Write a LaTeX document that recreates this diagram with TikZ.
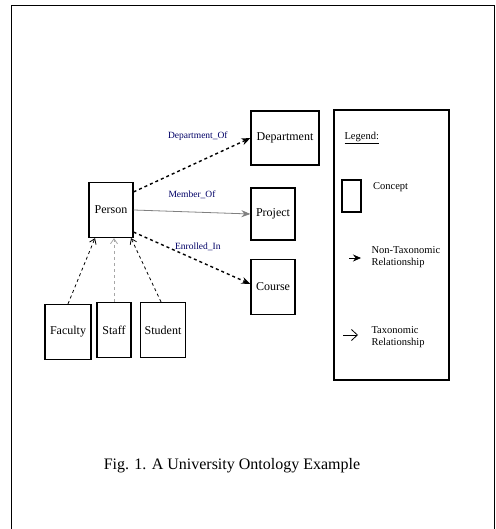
\documentclass[tikz,border=0pt]{standalone}
\usepackage{fontspec}
\setmainfont{Liberation Serif}
\usepackage{tikz}
\usetikzlibrary{positioning,arrows.meta}

\begin{document}
\begin{tikzpicture}[%
  x=1pt,
  y=-1pt,
  >=stealth,
  font=\fontsize{10.5}{12.5}\selectfont,
  concept/.style={
    draw,
    line width=1.2pt,
    inner sep=0pt,
    font=\fontsize{12}{13}\selectfont,
    align=center,},
  nontax/.style={
    -{Stealth[length=9pt,width=7pt]},
    line width=1.4pt,
    dashed,},
  tax/.style={
    -{Straight Barb[length=5pt,width=7pt]},
    thick,
    dashed,},
  lbl/.style={
    font=\fontsize{9.5}{10}\selectfont,
    text=blue!40!black,}
  ]
  \useasboundingbox (0,0) rectangle (495,529);
  %% Frame
  \draw[thick] (11,529) -- (11,5) -- (494,5) -- (494,529);
  %% Nodes
  \node[concept, minimum width=44pt, minimum height=55pt] (Per) at (111,210) {Person};
  \node[concept, minimum width=68pt, minimum height=54pt] (Dep) at (285,138) {Department};
  \node[concept, minimum width=44pt, minimum height=52pt] (Pro) at (273,214) {Project};
  \node[concept, minimum width=44pt, minimum height=55pt] (Cou) at (273,287) {Course};
  \node[concept, minimum width=46pt, minimum height=55pt] (Fac) at (68,332) {Faculty};
  \node[concept, minimum width=34pt, minimum height=55pt] (Sta) at (114,330) {Staff};
  \node[concept, minimum width=45pt, minimum height=55pt] (Stu) at (163,330) {Student};
  %% Edges
  \draw[nontax] (Per.north east) ++(0,10) coordinate (p1) -- (Dep.west)
    node[lbl, pos=0.55, above=18pt] {Department\_Of};
  \draw[-{Stealth[length=9pt,width=7pt]}, gray, thick] (Per.east) -- (Pro.west)
    node[lbl, midway, above=10pt] {Member\_Of};
  \draw[nontax] (Per.south east) ++(0,-6) coordinate (p3) -- ([yshift=3pt]Cou.west)
    node[lbl, pos=0.55, above=6pt] {Enrolled\_In};
  \draw[tax] (Fac.north) -- ([xshift=-16pt]Per.south);
  \draw[tax, gray!70] (Sta.north) -- ([xshift=3pt]Per.south);
  \draw[tax] ([xshift=-2pt]Stu.north) -- ([xshift=20pt]Per.south);
  %% Legend
  \node[draw, line width=1.2pt, minimum width=115pt, minimum height=270pt] (Leg) at (391.5,245) {};
  \node[anchor=west] (LegT) at (341,138) {\underline{Legend:}};
  \node[draw, line width=1.2pt, minimum width=19pt, minimum height=32pt] (LegC) at (351.5,196) {};
  \node[right=8pt of LegC.north east, yshift=-8pt, anchor=west] (LegCT) {Concept};
  \coordinate (NTa) at (349,258);
  \coordinate (NTb) at (361,258);
  \draw[-{Stealth[length=8pt,width=7pt]}, thick] (NTa) -- (NTb);
  \node[anchor=west, align=left] (NTT) at (368,257) {Non-Taxonomic\\Relationship};
  \coordinate (TXa) at (343,335);
  \coordinate (TXb) at (358,335);
  \draw[-{Straight Barb[length=6pt,width=11pt]}, thick] (TXa) -- (TXb);
  \node[anchor=west, align=left] (TXT) at (368,337) {Taxonomic\\Relationship};
  %% Caption
  \node[font=\fontsize{16}{17}\selectfont] (Cap) at (232,466) {Fig. 1. A University Ontology Example};
\end{tikzpicture}
\end{document}
